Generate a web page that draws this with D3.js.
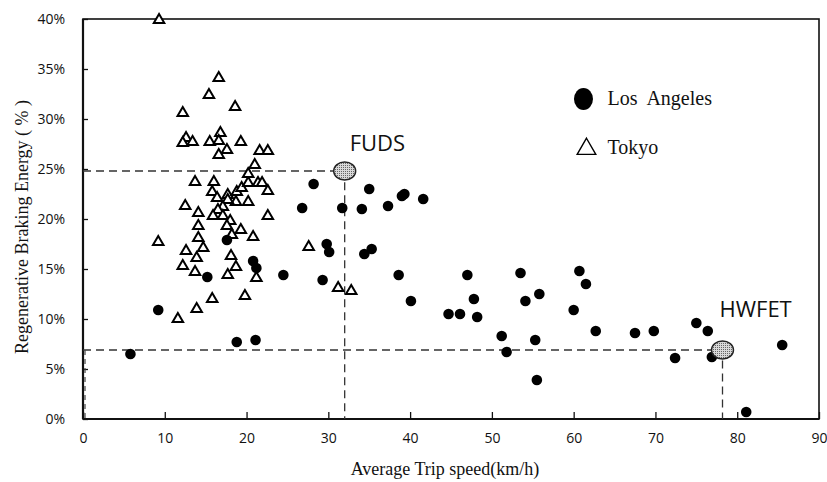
<!DOCTYPE html>
<html>
<head>
<meta charset="utf-8">
<script src="https://cdn.jsdelivr.net/npm/d3@7"></script>
<style>
  body { margin: 0; background: #fff; }
  .tick-label { font-family: "Open Sans", "DejaVu Sans", sans-serif; font-size: 14px; fill: #111; }
  .title { font-family: "Liberation Serif", "DejaVu Serif", serif; font-size: 18px; fill: #111; }
  .cycle { font-family: "Open Sans", "DejaVu Sans", sans-serif; font-size: 22px; fill: #111; }
</style>
</head>
<body>
<svg width="827" height="482"></svg>
<script>
// Los Angeles trips: average speed (km/h) and regenerative share (%)
var laSpeed = [5.8, 9.2, 15.2, 17.6, 18.8, 20.8, 21.2, 21.1, 24.5, 26.8, 28.2, 29.3, 29.8, 30.1,
  31.7, 34.1, 34.4, 35.0, 35.3, 37.3, 38.6, 39.0, 39.3, 40.1, 41.6, 44.7, 46.1, 47.0, 47.8, 48.2,
  51.2, 51.8, 53.5, 54.1, 55.3, 55.5, 55.8, 60.0, 60.7, 61.5, 62.7, 67.5, 69.8, 72.4, 75.0, 76.4,
  76.9, 81.1, 85.5];
var laEnergy = [6.5, 10.9, 14.2, 17.9, 7.7, 15.8, 15.1, 7.9, 14.4, 21.1, 23.5, 13.9, 17.5, 16.7,
  21.1, 21.0, 16.5, 23.0, 17.0, 21.3, 14.4, 22.3, 22.5, 11.8, 22.0, 10.5, 10.5, 14.4, 12.0, 10.2,
  8.3, 6.7, 14.6, 11.8, 7.9, 3.9, 12.5, 10.9, 14.8, 13.5, 8.8, 8.6, 8.8, 6.1, 9.6, 8.8,
  6.2, 0.7, 7.4];

// Tokyo trips
var tokyoSpeed = [9.3, 16.6, 15.4, 18.6, 12.2, 12.6, 13.4, 12.2, 15.5, 16.8, 16.6, 17.6, 16.6, 19.3,
  21.6, 22.6, 13.7, 16.0, 15.8, 16.4, 17.7, 18.8, 19.4, 20.2, 20.2, 21.0, 21.4, 21.9, 22.6, 20.2,
  18.7, 17.7, 17.1, 16.5, 15.9, 17.1, 12.5, 14.1, 18.0, 17.6, 14.1, 22.6, 19.3, 18.2, 20.8, 14.1,
  9.2, 14.7, 12.6, 18.1, 13.9, 12.2, 18.7, 13.7, 17.7, 21.2, 15.8, 19.8, 13.9, 11.6, 27.6, 31.2,
  32.8];
var tokyoEnergy = [39.9, 34.1, 32.4, 31.2, 30.6, 28.1, 27.7, 27.6, 27.7, 28.6, 27.8, 26.9, 26.4, 27.7,
  26.8, 26.8, 23.7, 23.7, 22.7, 22.1, 22.4, 22.7, 23.1, 23.6, 24.5, 25.4, 23.6, 23.6, 22.8, 21.7,
  21.7, 21.9, 21.2, 20.9, 20.3, 20.3, 21.3, 20.6, 19.8, 19.3, 19.3, 20.3, 18.9, 18.4, 18.2, 18.1,
  17.7, 17.1, 16.8, 16.3, 16.1, 15.3, 15.2, 14.7, 14.4, 14.1, 12.0, 12.3, 11.0, 10.0, 17.2, 13.1,
  12.8];

// test cycles
var cycleNames = ["FUDS", "HWFET"];
var cycleSpeed = [32.0, 78.2];
var cycleEnergy = [24.8, 6.9];

var xTicks = [0, 10, 20, 30, 40, 50, 60, 70, 80, 90];
var yTicks = [0, 5, 10, 15, 20, 25, 30, 35, 40];

var svg = d3.select("svg"),
    margin = {top: 19, right: 8, bottom: 63, left: 83},
    width = +svg.attr("width") - margin.left - margin.right,
    height = +svg.attr("height") - margin.top - margin.bottom,
    g = svg.append("g").attr("transform", "translate(" + margin.left + "," + margin.top + ")");

var x = d3.scaleLinear().domain([0, 90]).range([0, width]);
var y = d3.scaleLinear().domain([0, 40]).range([height, 0]);

// axes, ticks pointing inward
var xAxis = g.append("g")
    .attr("transform", "translate(0," + height + ")")
    .call(d3.axisBottom(x).tickValues(xTicks).tickSizeInner(-7).tickSizeOuter(0).tickPadding(14));
var yAxis = g.append("g")
    .call(d3.axisLeft(y).tickValues(yTicks).tickSizeInner(-5).tickSizeOuter(0).tickPadding(18)
      .tickFormat(function(d) { return d + "%"; }));

[xAxis, yAxis].forEach(function(a) {
  a.select(".domain").remove();
  a.selectAll(".tick line").attr("stroke", "#111").attr("stroke-width", 1.3);
  a.selectAll(".tick text").attr("class", "tick-label").attr("fill", null);
});

// frame
g.append("rect")
    .attr("width", width)
    .attr("height", height)
    .attr("fill", "none")
    .attr("stroke", "#111")
    .attr("stroke-width", 1.6);
g.append("line").attr("x1", 0).attr("x2", 0).attr("y1", 0).attr("y2", height)
    .attr("stroke", "#111").attr("stroke-width", 2.2);
g.append("line").attr("x1", 0).attr("x2", width).attr("y1", height).attr("y2", height)
    .attr("stroke", "#111").attr("stroke-width", 2.2);

// dashed guides to the test cycles
cycleSpeed.forEach(function(s, i) {
  g.append("path")
      .attr("d", "M" + x(0) + "," + y(cycleEnergy[i]) + "H" + x(s) + "V" + y(0))
      .attr("fill", "none")
      .attr("stroke", "#333")
      .attr("stroke-width", 1.3)
      .attr("stroke-dasharray", "8,5");
});
g.append("line")
    .attr("x1", x(0) + 2).attr("x2", x(0) + 2)
    .attr("y1", y(cycleEnergy[1])).attr("y2", y(0))
    .attr("stroke", "#444").attr("stroke-width", 1.2).attr("stroke-dasharray", "5,4");

// Tokyo triangles
var tri = d3.symbol().type(d3.symbolTriangle).size(48);
g.selectAll(".tokyo")
    .data(d3.range(tokyoSpeed.length))
  .enter().append("path")
    .attr("class", "tokyo")
    .attr("d", tri)
    .attr("transform", function(i) { return "translate(" + x(tokyoSpeed[i]) + "," + y(tokyoEnergy[i]) + ")"; })
    .attr("fill", "#fff")
    .attr("stroke", "#000")
    .attr("stroke-width", 2);

// Los Angeles dots
g.selectAll(".la")
    .data(d3.range(laSpeed.length))
  .enter().append("circle")
    .attr("class", "la")
    .attr("cx", function(i) { return x(laSpeed[i]); })
    .attr("cy", function(i) { return y(laEnergy[i]); })
    .attr("r", 5.3)
    .attr("fill", "#000");

// stippled cycle markers
var defs = svg.append("defs");
var pat = defs.append("pattern")
    .attr("id", "stipple")
    .attr("width", 2).attr("height", 2)
    .attr("patternUnits", "userSpaceOnUse");
pat.append("rect").attr("width", 2).attr("height", 2).attr("fill", "#d8d8d8");
pat.append("rect").attr("width", 1).attr("height", 1).attr("fill", "#666");

g.selectAll(".cycle-pt")
    .data(cycleNames)
  .enter().append("ellipse")
    .attr("cx", function(d, i) { return x(cycleSpeed[i]); })
    .attr("cy", function(d, i) { return y(cycleEnergy[i]); })
    .attr("rx", 11)
    .attr("ry", 9)
    .attr("fill", "url(#stipple)")
    .attr("stroke", "#222")
    .attr("stroke-width", 1.4);

g.selectAll(".cycle")
    .data(cycleNames)
  .enter().append("text")
    .attr("class", "cycle")
    .attr("x", function(d, i) { return x(cycleSpeed[i]) + (i === 0 ? 5 : -3); })
    .attr("y", function(d, i) { return y(cycleEnergy[i]) - (i === 0 ? 20 : 33); })
    .text(function(d) { return d; });

// legend
var legend = g.append("g").attr("transform", "translate(" + (x(61.2)) + "," + y(32) + ")");
legend.append("ellipse").attr("cx", 0).attr("cy", 0).attr("rx", 9.5).attr("ry", 11).attr("fill", "#000");
legend.append("text").attr("class", "title").attr("x", 24).attr("y", 6)
    .style("font-size", "20px").style("word-spacing", "5px").text("Los Angeles");
legend.append("path")
    .attr("d", d3.symbol().type(d3.symbolTriangle).size(150))
    .attr("transform", "translate(3,50)")
    .attr("fill", "#fff").attr("stroke", "#000").attr("stroke-width", 1.4);
legend.append("text").attr("class", "title").attr("x", 24).attr("y", 55)
    .style("font-size", "20px").text("Tokyo");

// axis titles
svg.append("text")
    .attr("class", "title")
    .attr("x", margin.left + width / 2 - 6)
    .attr("y", 475)
    .attr("text-anchor", "middle")
    .text("Average Trip speed(km/h)");
svg.append("text")
    .attr("class", "title")
    .attr("transform", "translate(28," + (margin.top + height / 2 + 8) + ") rotate(-90)")
    .attr("text-anchor", "middle")
    .text("Regenerative Braking Energy ( % )");
</script>
</body>
</html>
